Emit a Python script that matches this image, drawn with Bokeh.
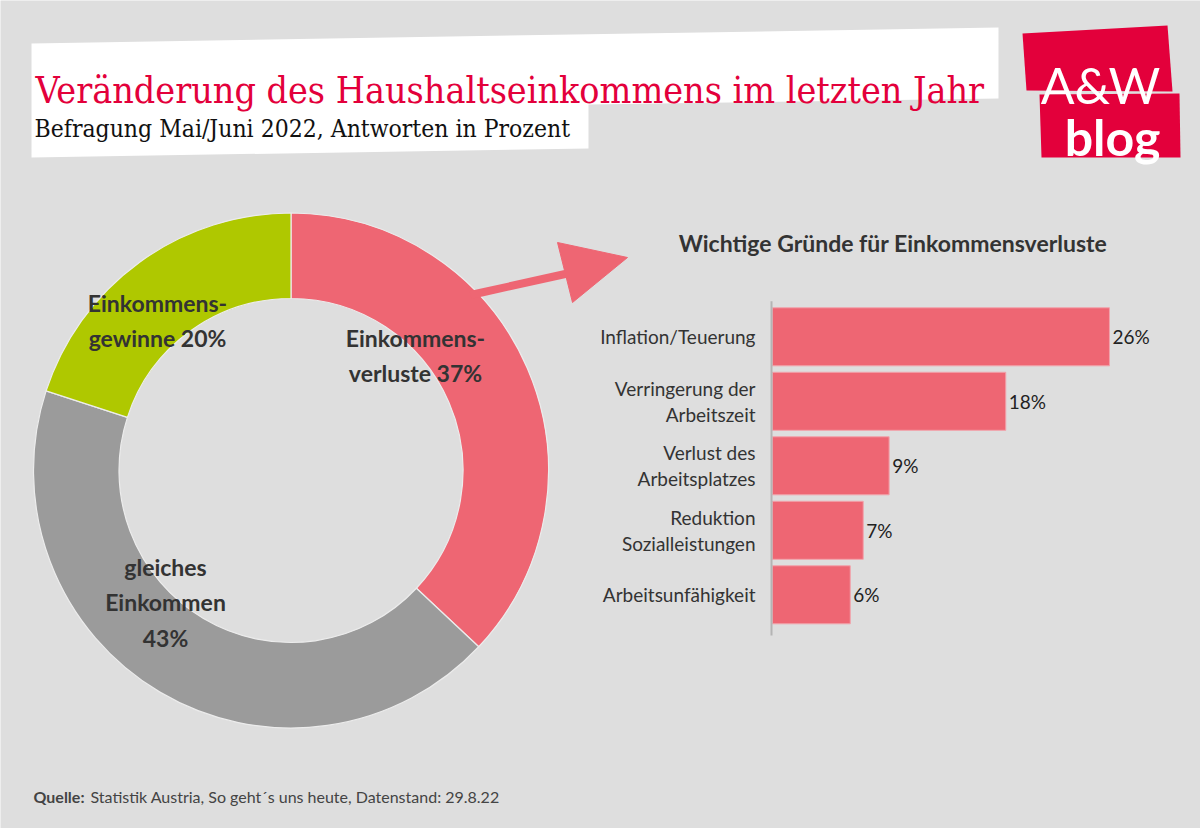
import numpy as np
from bokeh.plotting import figure
from bokeh.models import Range1d, ColumnDataSource
from bokeh.core.properties import value
from bokeh.embed import file_html
from bokeh.resources import INLINE

# ---------------- data ----------------
donut_names = ["Einkommens-\nverluste", "gleiches\nEinkommen\n", "Einkommens-\ngewinne"]
donut_vals = [37, 43, 20]
donut_colors = ["#ee6673", "#9b9b9b", "#afc800"]

reasons = ["Inflation/Teuerung", "Verringerung der\nArbeitszeit", "Verlust des\nArbeitsplatzes",
           "Reduktion\nSozialleistungen", "Arbeitsunfähigkeit"]
reason_vals = [26, 18, 9, 7, 6]

title = "Veränderung des Haushaltseinkommens im letzten Jahr"
subtitle = "Befragung Mai/Juni 2022, Antworten in Prozent"
bar_title = "Wichtige Gründe für Einkommensverluste"
source_bold = "Quelle:"
source_text = "Statistik Austria, So geht´s uns heute, Datenstand: 29.8.22"

# ---------------- styles ----------------
BG = "#dedede"
RED = "#ee6673"
BRAND = "#e3003b"
DARK = "#333333"
SANS = "Lato"
SERIF = "DejaVu Serif Condensed"

W, H = 1200, 828
p = figure(width=W, height=H, x_range=Range1d(0, W), y_range=Range1d(H, 0),
           output_backend="svg", toolbar_location=None, min_border=0,
           x_axis_location=None, y_axis_location=None,
           background_fill_color=BG, border_fill_color=BG, outline_line_color=None)
p.grid.visible = False

# donut coordinate system (1 unit = 1 px, centre at 290.5 / 470)
cx, cy = 290.5, 470.0
p.extra_x_ranges["dx"] = Range1d(-cx, W - cx)
p.extra_y_ranges["dy"] = Range1d(-(H - cy), cy)

# bar coordinate system
px_per_pct = 12.96
bar_x0 = 772.0
row0, pitch = 336.3, 64.5
p.extra_x_ranges["bx"] = Range1d(-bar_x0 / px_per_pct, (W - bar_x0) / px_per_pct)
p.extra_y_ranges["by"] = Range1d((H - row0) / pitch, -row0 / pitch)

# ---------------- header ----------------
p.patch([31, 998, 998, 588, 588, 31], [43, 27, 98, 104, 148, 157],
        fill_color="white", line_color=None)
p.text(x=[35], y=[89], text=[title], text_font=value(SERIF), text_font_size="37.3px",
       text_color=BRAND, text_baseline="alphabetic", text_align="left")
p.text(x=[34], y=[128], text=[subtitle], text_font=value(SERIF), text_font_size="24.5px",
       text_color="#111111", text_baseline="alphabetic", text_align="left")

# logo
p.patches([[1022, 1167, 1172, 1026], [1039, 1179, 1180, 1041]],
          [[33, 25, 91, 90], [94, 93, 157, 157]],
          fill_color=BRAND, line_color=None)
p.text(x=[1100], y=[84], text=["A&W"], text_font=value(SANS), text_font_size="50px",
       text_color="white", text_baseline="alphabetic", text_align="center")
p.text(x=[1112], y=[136], text=["blog"], text_font=value(SANS), text_font_size="50px",
       text_font_style="bold", text_color="white", text_baseline="alphabetic", text_align="center")

# ---------------- donut ----------------
fr = np.array(donut_vals) / 100.0
cum = np.concatenate([[0], np.cumsum(fr)])
start = np.pi / 2 - 2 * np.pi * cum[:-1]
end = np.pi / 2 - 2 * np.pi * cum[1:]
dsrc = ColumnDataSource(dict(start=start, end=end, color=donut_colors))
p.annular_wedge(x=0, y=0, inner_radius=172, outer_radius=257.5, start_angle="start",
                end_angle="end", direction="clock", fill_color="color",
                line_color="#ececec", line_width=1.2, source=dsrc,
                x_range_name="dx", y_range_name="dy")

# arrow
p.line([470, 567], [294.5, 273], line_width=8, line_color=RED)
p.patch([557, 627, 572], [242, 257, 302], fill_color=RED, line_color=RED)

# donut labels
lbl_anchor = {0: (415, 337), 1: (165, 566), 2: (157, 302)}
lx, ly, lt = [], [], []
for i, (name, v) in enumerate(zip(donut_names, donut_vals)):
    lines = name.split("\n")
    if lines[-1] == "":
        lines[-1] = f"{v}%"
    else:
        lines[-1] = f"{lines[-1]} {v}%"
    x0, y0 = lbl_anchor[i]
    for k, line in enumerate(lines):
        lx.append(x0); ly.append(y0 + 35.5 * k); lt.append(line)
p.text(x=lx, y=ly, text=lt, text_font=value(SANS), text_font_size="23px",
       text_font_style="bold", text_color=DARK, text_baseline="middle", text_align="center")

# ---------------- bar chart ----------------
idx = list(range(len(reasons)))
bsrc = ColumnDataSource(dict(y=idx, v=reason_vals, lab=reasons,
                             vl=[f"{v}%" for v in reason_vals],
                             vx=[v + 3 / px_per_pct for v in reason_vals]))
p.hbar(y="y", left=0, right="v", height=0.9, fill_color=RED, line_color="#f2a3ab",
       line_width=1, source=bsrc, x_range_name="bx", y_range_name="by")
p.segment(x0=[0 - 1 / px_per_pct], y0=[-0.55], x1=[0 - 1 / px_per_pct], y1=[4.63],
          line_color="#b4b4b4", line_width=2, x_range_name="bx", y_range_name="by")
p.text(x="vx", y="y", text="vl", text_font=value(SANS), text_font_size="19px",
       text_color="#222222", text_baseline="middle", text_align="left",
       source=bsrc, x_range_name="bx", y_range_name="by")
p.text(x=-17 / px_per_pct, y="y", text="lab", text_font=value(SANS), text_font_size="19px",
       text_color=DARK, text_baseline="middle", text_align="right", text_line_height=1.12,
       source=bsrc, x_range_name="bx", y_range_name="by")
p.text(x=[892.5], y=[242], text=[bar_title], text_font=value(SANS), text_font_size="23px",
       text_font_style="bold", text_color=DARK, text_baseline="middle", text_align="center")

# ---------------- footer ----------------
p.text(x=[33], y=[796], text=[source_bold], text_font=value(SANS), text_font_size="16px",
       text_font_style="bold", text_color="#444444", text_baseline="middle", text_align="left")
p.text(x=[90], y=[796], text=[source_text], text_font=value(SANS), text_font_size="16px",
       text_color="#444444", text_baseline="middle", text_align="left")

open("out.html", "w").write(file_html(p, INLINE))
